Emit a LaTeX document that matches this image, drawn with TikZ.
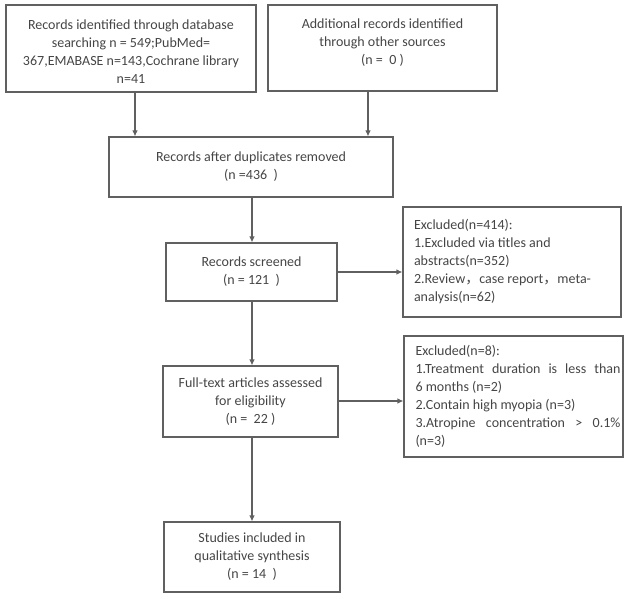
\documentclass[tikz,border=0pt]{standalone}
\usepackage{fontspec}
\setmainfont{Carlito}
\newfontfamily\cjk{Noto Sans CJK SC}
\usetikzlibrary{arrows.meta}
\definecolor{linec}{HTML}{606060}
\definecolor{textc}{HTML}{454545}
\newcommand{\fw}{{\cjk ，}}
\newcommand{\exlines}[1]{\hspace*{11pt}\begin{minipage}{205pt}\raggedright #1\end{minipage}\hspace*{2pt}}
\newcommand{\topgap}{\rule{0pt}{16pt}}
\tikzset{
  box/.style={draw=linec, line width=1.1pt, align=center, text=textc, inner sep=0pt,
    font=\fontsize{14}{18}\selectfont},
  exbox/.style={draw=linec, line width=1.1pt, text=textc, inner sep=0pt,
    font=\fontsize{14}{18}\selectfont},
  arr/.style={draw=linec, line width=1.1pt, -{Latex[length=6pt,width=5.5pt]}}
}
\begin{document}
\begin{tikzpicture}[x=1pt,y=-1pt]
\useasboundingbox (0,0) rectangle (629,599);
\node[box, minimum width=250, minimum height=87] (b1) at (131,48.5)
  {\topgap Records identified through database\\searching n = 549;PubMed=\\367,EMABASE n=143,Cochrane library\\n=41};
\node[box, minimum width=229, minimum height=86] (b2) at (382.5,48)
  {\topgap Additional records identified\\through other sources\\(n = ~0 )\\\mbox{}};
\node[box, minimum width=284, minimum height=60] (b3) at (251,167)
  {Records after duplicates removed\\(n =436 ~)};
\node[box, minimum width=171, minimum height=58] (b4) at (251.5,272)
  {Records screened\\(n = 121 ~)};
\node[exbox, minimum width=218, minimum height=110] (e1) at (512,262)
  {\exlines{Excluded(n=414):\\1.Excluded via titles and\\abstracts(n=352)\\2.Review\fw case report\fw meta-\\analysis(n=62)}};
\node[box, minimum width=175, minimum height=71] (b5) at (250.5,401.5)
  {Full-text articles assessed\\for eligibility\\(n = ~22 )};
\node[exbox, minimum width=219, minimum height=121] (e2) at (513.5,396.5)
  {\exlines{Excluded(n=8):\\1.Treatment\hfill duration\hfill is\hfill less\hfill than\\6 months (n=2)\\2.Contain high myopia (n=3)\\3.Atropine\hfill concentration\hfill >\hfill 0.1\%\\(n=3)}};
\node[box, minimum width=176, minimum height=70] (b6) at (252,557)
  {Studies included in\\qualitative synthesis\\(n = 14 ~)};
\draw[arr] (b1.south -| 135,0) -- (b3.north -| 135,0);
\draw[arr] (b2.south -| 368,0) -- (b3.north -| 368,0);
\draw[arr] (b3.south -| 252,0) -- (b4.north -| 252,0);
\draw[arr] (b4.east |- 0,272) -- (e1.west |- 0,272);
\draw[arr] (b4.south -| 252,0) -- (b5.north -| 252,0);
\draw[arr] (b5.east |- 0,401) -- (e2.west |- 0,401);
\draw[arr] (b5.south -| 252,0) -- (b6.north -| 252,0);
\end{tikzpicture}
\end{document}
